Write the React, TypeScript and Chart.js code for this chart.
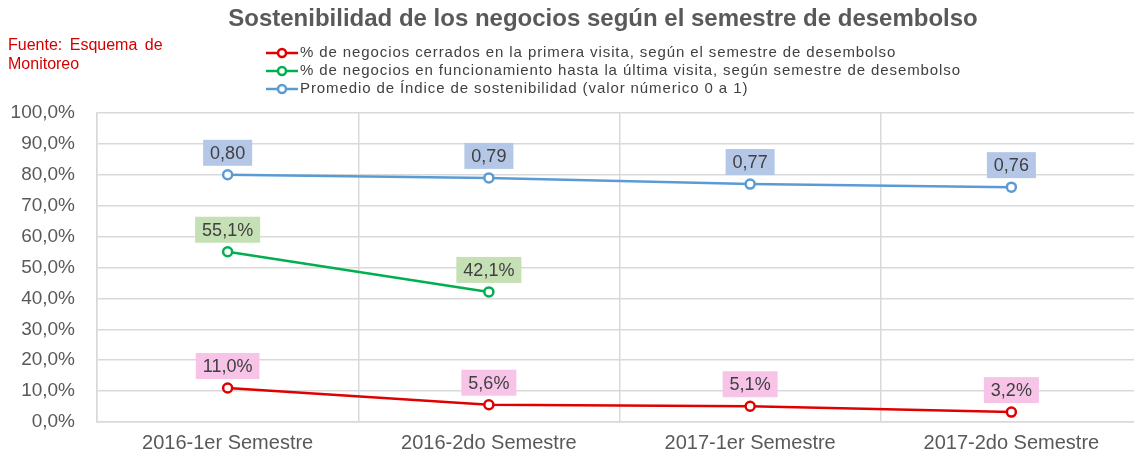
import React, { useEffect, useRef } from "react";
import { Chart, registerables } from "chart.js";

Chart.register(...registerables);

const categories = ["2016-1er Semestre", "2016-2do Semestre", "2017-1er Semestre", "2017-2do Semestre"];
const cerrados = [0.11, 0.056, 0.051, 0.032];
const funcionamiento = [0.551, 0.421, null, null];
const indice = [0.8, 0.79, 0.77, 0.76];
const seriesNames = [
  "% de negocios cerrados en la primera visita, según el semestre de desembolso",
  "% de negocios en funcionamiento hasta la última visita, según semestre de desembolso",
  "Promedio de Índice de sostenibilidad (valor númerico 0 a 1)",
];
const seriesColors = ["#e00000", "#00b050", "#5b9bd5"];
const labelBoxColors = ["#f7c4e8", "#c5e0b4", "#b4c7e7"];
const titleText = "Sostenibilidad de los negocios según el semestre de desembolso";
const sourceLines = ["Fuente: Esquema de", "Monitoreo"];

const FONT = "'Liberation Sans', Arial, sans-serif";
const pct = (v: number) => (v * 100).toFixed(1).replace(".", ",") + "%";
const idx = (v: number) => v.toFixed(2).replace(".", ",");

const decorations = {
  id: "decorations",
  afterDatasetsDraw(chart: any) {
    const ctx = chart.ctx;
    ctx.save();
    chart.data.datasets.forEach((ds: any, di: number) => {
      const meta = chart.getDatasetMeta(di);
      meta.data.forEach((pt: any, i: number) => {
        const v = ds.data[i];
        if (v === null || v === undefined) return;
        const text = di === 2 ? idx(v) : pct(v);
        ctx.font = `18px ${FONT}`;
        const w = ctx.measureText(text).width + 14;
        const h = 26;
        const x = pt.x - w / 2;
        const y = pt.y - 9 - h;
        ctx.fillStyle = labelBoxColors[di];
        ctx.fillRect(x, y, w, h);
        ctx.fillStyle = "#404040";
        ctx.textAlign = "center";
        ctx.textBaseline = "middle";
        ctx.fillText(text, pt.x, y + h / 2 + 1);
      });
    });
    ctx.restore();
  },
  afterDraw(chart: any) {
    const ctx = chart.ctx;
    ctx.save();
    // title
    ctx.font = `bold 24px ${FONT}`;
    ctx.fillStyle = "#595959";
    ctx.textAlign = "center";
    ctx.textBaseline = "middle";
    ctx.fillText(titleText, 603, 19);
    // source
    ctx.font = `16px ${FONT}`;
    (ctx as any).wordSpacing = "3px";
    ctx.fillStyle = "#d40000";
    ctx.textAlign = "left";
    sourceLines.forEach((s, i) => ctx.fillText(s, 8, 46 + i * 19));
    (ctx as any).wordSpacing = "0px";
    // legend
    ctx.font = `15px ${FONT}`;
    (ctx as any).letterSpacing = "0.9px";
    seriesNames.forEach((name, i) => {
      const y = 53 + i * 18;
      ctx.strokeStyle = seriesColors[i];
      ctx.lineWidth = 2.5;
      ctx.beginPath();
      ctx.moveTo(266, y);
      ctx.lineTo(298, y);
      ctx.stroke();
      ctx.beginPath();
      ctx.arc(282, y, 4, 0, Math.PI * 2);
      ctx.fillStyle = "#ffffff";
      ctx.fill();
      ctx.stroke();
      ctx.fillStyle = "#404040";
      ctx.fillText(name, 300, y);
    });
    (ctx as any).letterSpacing = "0px";
    ctx.restore();
  },
};

export default function App() {
  const ref = useRef<HTMLCanvasElement>(null);
  useEffect(() => {
    document.body.style.overflow = "hidden";
    const mk = (i: number, data: any[]) => ({
      label: seriesNames[i],
      data,
      borderColor: seriesColors[i],
      backgroundColor: seriesColors[i],
      borderWidth: 2.5,
      pointRadius: 4.5,
      pointBorderWidth: 2.5,
      pointBackgroundColor: "#ffffff",
      pointBorderColor: seriesColors[i],
      spanGaps: false,
      tension: 0,
    });
    const chart = new Chart(ref.current as HTMLCanvasElement, {
      type: "line",
      data: {
        labels: categories,
        datasets: [mk(0, cerrados), mk(1, funcionamiento), mk(2, indice)],
      },
      options: {
        animation: false,
        responsive: false,
        layout: { padding: { top: 113, left: 0, right: 8, bottom: 0 } },
        plugins: { legend: { display: false }, tooltip: { enabled: false }, title: { display: false } },
        scales: {
          x: {
            offset: true,
            grid: { offset: true, color: "#d9d9d9", drawTicks: false, lineWidth: 1.5 },
            border: { color: "#d9d9d9", width: 1.5 },
            ticks: { color: "#595959", font: { size: 20, family: FONT }, padding: 9, maxRotation: 0 },
            afterFit: (s: any) => { s.height = 38; },
          },
          y: {
            min: 0,
            max: 1,
            ticks: { stepSize: 0.1, color: "#595959", font: { size: 19, family: FONT }, padding: 22, callback: (v: any) => pct(Number(v)) },
            grid: { color: "#d9d9d9", drawTicks: false, lineWidth: 1.5 },
            border: { color: "#d9d9d9", width: 1.5 },
            afterFit: (s: any) => { s.width = 97; },
          },
        },
      },
      plugins: [decorations],
    });
    return () => chart.destroy();
  }, []);
  return (
    <div style={{ position: "fixed", left: 0, top: 0, width: 1150, height: 460, background: "#ffffff" }}>
      <canvas ref={ref} width={1150} height={460} style={{ width: 1150, height: 460 }} />
    </div>
  );
}
